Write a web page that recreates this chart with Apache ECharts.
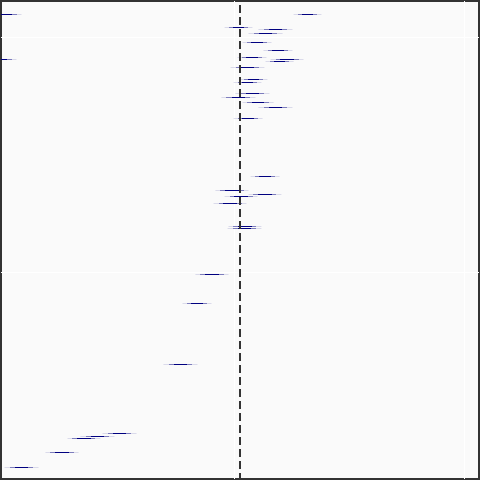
<!DOCTYPE html>
<html>
<head>
<meta charset="utf-8">
<script src="https://cdn.jsdelivr.net/npm/echarts@6/dist/echarts.min.js"></script>
<style>html,body{margin:0;padding:0;background:#fff;}#c{width:480px;height:480px;}</style>
</head>
<body>
<div id="c"></div>
<script>
// interval lower bounds, upper bounds and vertical positions (data units)
const lower = [0.257, -1.070, -0.043, 0.104, 0.061, 0.035, 0.126, 0.013, 0.157, -1.078, 0.135, -0.017, 0.022, -0.004, 0.004, -0.057, 0.035, 0.104, -0.004, 0.070, -0.083, 0.061, -0.043, -0.091, -0.026, -0.030, -0.170, -0.226, -0.309, -0.574, -0.670, -0.726, -0.822, -1.000];
const upper = [0.378, -0.926, 0.078, 0.252, 0.209, 0.161, 0.252, 0.139, 0.300, -0.948, 0.257, 0.130, 0.143, 0.117, 0.152, 0.091, 0.170, 0.252, 0.122, 0.196, 0.061, 0.204, 0.100, 0.052, 0.117, 0.117, -0.026, -0.100, -0.161, -0.426, -0.522, -0.583, -0.678, -0.852];
const position = [1.097, 1.097, 1.041, 1.033, 1.016, 0.977, 0.943, 0.914, 0.905, 0.905, 0.897, 0.871, 0.820, 0.807, 0.760, 0.743, 0.722, 0.701, 0.654, 0.407, 0.348, 0.331, 0.322, 0.292, 0.194, 0.186, -0.010, -0.133, -0.393, -0.686, -0.699, -0.708, -0.767, -0.831];
const xGrid = [0, 1];
const yGrid = [0, 1];
const referenceValue = 0.024;

const segs = lower.map((l, i) => [l, upper[i], position[i]]);

const chart = echarts.init(document.getElementById('c'));
const navy = a => 'rgba(0,0,128,' + a + ')';
const L = navy(0.13), M = navy(0.5), D = navy(1);
const hidden = {axisLine: {show: false}, axisTick: {show: false}, axisLabel: {show: false}, splitLine: {show: false}};

function vLine(color, width, dash) {
  return function (params, api) {
    const cs = params.coordSys;
    const p = api.coord([api.value(0), 0]);
    const x = width % 2 === 0 ? Math.round(p[0]) : Math.floor(p[0]) + 0.5;
    const style = {stroke: color, lineWidth: width};
    if (dash) { style.lineDash = dash; style.lineDashOffset = 8; }
    return {type: 'line', shape: {x1: x, y1: cs.y, x2: x, y2: cs.y + cs.height}, style: style};
  };
}

chart.setOption({
  animation: false,
  backgroundColor: '#ffffff',
  grid: {left: 1, right: 1, top: 1, bottom: 1, show: true, backgroundColor: '#fafafa', borderColor: '#333', borderWidth: 2},
  xAxis: Object.assign({type: 'value', min: -1.01522, max: 1.06304}, hidden),
  yAxis: Object.assign({type: 'value', min: -0.87872, max: 1.15532}, hidden),
  series: [
    {
      type: 'custom', z: 1, silent: true,
      data: xGrid.map(v => [v]),
      renderItem: vLine('#ffffff', 1, null)
    },
    {
      type: 'custom', z: 1, silent: true,
      data: yGrid.map(v => [v]),
      renderItem: function (params, api) {
        const cs = params.coordSys;
        const p = api.coord([0, api.value(0)]);
        const y = Math.floor(p[1]) + 0.5;
        return {type: 'line', shape: {x1: cs.x, y1: y, x2: cs.x + cs.width, y2: y}, style: {stroke: '#ffffff', lineWidth: 1}};
      }
    },
    {
      type: 'custom', z: 3, clip: true,
      data: segs,
      renderItem: function (params, api) {
        const p1 = api.coord([api.value(0), api.value(2)]);
        const p2 = api.coord([api.value(1), api.value(2)]);
        const y = Math.floor(p1[1]) + 0.5;
        const grad = new echarts.graphic.LinearGradient(p1[0], 0, p2[0], 0, [
          {offset: 0, color: L}, {offset: 0.15, color: L},
          {offset: 0.15, color: M}, {offset: 0.3, color: M},
          {offset: 0.3, color: D}, {offset: 0.7, color: D},
          {offset: 0.7, color: M}, {offset: 0.85, color: M},
          {offset: 0.85, color: L}, {offset: 1, color: L}
        ], true);
        return {type: 'line', shape: {x1: p1[0], y1: y, x2: p2[0], y2: y}, style: {stroke: grad, lineWidth: 1}};
      }
    },
    {
      type: 'custom', z: 5, silent: true,
      data: [[referenceValue]],
      renderItem: vLine('#333', 2, [8, 4])
    }
  ]
});
</script>
</body>
</html>
